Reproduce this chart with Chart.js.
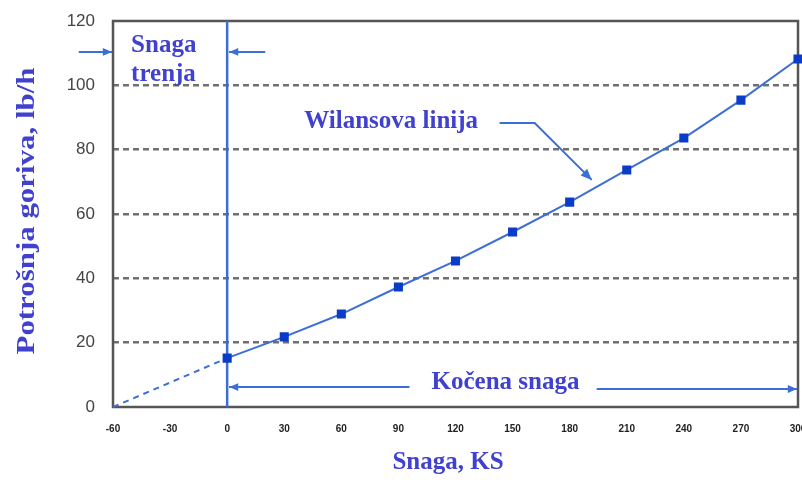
<!DOCTYPE html>
<html>
<head>
<meta charset="utf-8">
<script src="https://cdn.jsdelivr.net/npm/chart.js@4.4.0/dist/chart.umd.min.js"></script>
<style>
  html, body { margin: 0; padding: 0; background: #fff; }
  #wrap { width: 802px; height: 487px; }
</style>
</head>
<body>
<div id="wrap"><canvas id="chart" width="802" height="487"></canvas></div>
<script>
// --- Data ---
const power = [0, 30, 60, 90, 120, 150, 180, 210, 240, 270, 300];
const fuel = [15.2, 21.8, 28.9, 37.3, 45.4, 54.4, 63.7, 73.7, 83.6, 95.4, 108.2];
// extrapolation back to zero fuel (friction power)
const extPower = [-60, 0];
const extFuel = [0, 15.2];
const yTicks = [0, 20, 40, 60, 80, 100, 120];
const gridValues = [20, 40, 60, 80, 100];

const LINE = '#3c6fd6';
const MARK = '#0a3cc8';
const TEXT = '#4141cf';
const SERIF = 'bold 25px "Liberation Serif", "DejaVu Serif", serif';

const toPoints = (xs, ys) => xs.map((x, i) => ({ x: x, y: ys[i] }));

// arrow helper (pixel coords)
const arrow = (ctx, pts, head) => {
    ctx.beginPath();
    ctx.moveTo(pts[0][0], pts[0][1]);
    for (let i = 1; i < pts.length; i++) ctx.lineTo(pts[i][0], pts[i][1]);
    ctx.stroke();
    const [x1, y1] = pts[pts.length - 2];
    const [x2, y2] = pts[pts.length - 1];
    const a = Math.atan2(y2 - y1, x2 - x1);
    ctx.beginPath();
    ctx.moveTo(x2, y2);
    ctx.lineTo(x2 - head * Math.cos(a - 0.4), y2 - head * Math.sin(a - 0.4));
    ctx.lineTo(x2 - head * Math.cos(a + 0.4), y2 - head * Math.sin(a + 0.4));
    ctx.closePath();
    ctx.fill();
};

const frame = {
    id: 'frame',
    beforeDatasetsDraw(chart) {
        const { ctx, chartArea: a } = chart;
        ctx.save();
        ctx.strokeStyle = '#555';
        ctx.lineWidth = 2.5;
        ctx.strokeRect(a.left, a.top, a.right - a.left, a.bottom - a.top);
        ctx.restore();
    }
};

const notes = {
    id: 'notes',
    afterDatasetsDraw(chart) {
        const { ctx } = chart;
        const sx = chart.scales.x, sy = chart.scales.y;
        const P = (x, y) => [sx.getPixelForValue(x), sy.getPixelForValue(y)];

        ctx.save();
        ctx.fillStyle = TEXT;
        ctx.font = SERIF;
        ctx.textBaseline = 'middle';
        ctx.textAlign = 'left';
        let p = P(-50.5, 112.5); ctx.fillText('Snaga', p[0], p[1]);
        p = P(-50.5, 103.2); ctx.fillText('trenja', p[0], p[1]);
        p = P(40.5, 88.6); ctx.fillText('Wilansova linija', p[0], p[1]);
        p = P(107.4, 7.6); ctx.fillText('Kočena snaga', p[0], p[1]);

        ctx.strokeStyle = LINE;
        ctx.fillStyle = LINE;
        ctx.lineWidth = 2;
        arrow(ctx, [P(-78, 110.4), P(-60.5, 110.4)], 10);
        arrow(ctx, [P(20, 110.4), P(1, 110.4)], 10);
        arrow(ctx, [P(143.2, 88.3), P(161.6, 88.3), P(191.6, 70.6)], 12);
        arrow(ctx, [P(95.8, 6.2), P(1, 6.2)], 10);
        arrow(ctx, [P(194.2, 5.6), P(299.5, 5.6)], 10);

        // axis titles
        ctx.fillStyle = TEXT;
        ctx.font = 'bold 25px "Liberation Serif", "DejaVu Serif", serif';
        ctx.textAlign = 'center';
        ctx.fillText('Snaga, KS', 448, 463);
        const yTitle = 'Potrošnja goriva, lb/h';
        ctx.font = 'bold 26px "Liberation Serif", "DejaVu Serif", serif';
        const stretch = 287 / ctx.measureText(yTitle).width;
        ctx.translate(27, 211);
        ctx.rotate(-Math.PI / 2);
        ctx.scale(stretch, 1);
        ctx.fillText(yTitle, 0, 0);
        ctx.restore();
    }
};

new Chart(document.getElementById('chart'), {
    type: 'line',
    data: {
        datasets: [
            {
                data: toPoints(power, fuel),
                borderColor: LINE,
                borderWidth: 2,
                pointStyle: 'rect',
                pointRadius: 5,
                pointBackgroundColor: MARK,
                pointBorderColor: MARK,
                tension: 0
            },
            {
                data: toPoints(extPower, extFuel),
                borderColor: LINE,
                borderWidth: 2,
                borderDash: [6, 5],
                pointRadius: 0
            },
            {
                // friction power boundary at zero brake power
                data: [{ x: 0, y: 0 }, { x: 0, y: 120 }],
                borderColor: LINE,
                borderWidth: 2.5,
                pointRadius: 0
            }
        ]
    },
    options: {
        responsive: false,
        animation: false,
        clip: false,
        layout: { autoPadding: false, padding: { top: 21, right: 4, left: 0, bottom: 0 } },
        plugins: {
            legend: { display: false },
            tooltip: { enabled: false }
        },
        scales: {
            x: {
                type: 'linear',
                min: -60,
                max: 300,
                afterFit: (s) => { s.height = 80; s.paddingLeft = 0; s.paddingRight = 0; },
                ticks: {
                    stepSize: 30,
                    padding: 16,
                    color: '#222',
                    font: { family: '"Liberation Sans", Arial, sans-serif', size: 10, weight: 'bold' }
                },
                grid: { display: false, drawTicks: false },
                border: { display: false }
            },
            y: {
                min: 0,
                max: 120,
                afterFit: (s) => { s.width = 113; s.paddingTop = 0; s.paddingBottom = 0; },
                afterBuildTicks: (s) => { s.ticks = yTicks.map(v => ({ value: v })); },
                ticks: {
                    padding: 18,
                    color: '#444',
                    font: { family: '"Liberation Sans", Arial, sans-serif', size: 17 }
                },
                grid: {
                    drawTicks: false,
                    lineWidth: 2.5,
                    color: (c) => gridValues.includes(c.tick && c.tick.value) ? '#707070' : 'rgba(0,0,0,0)'
                },
                border: { display: false, dash: [6, 4] }
            }
        }
    },
    plugins: [frame, notes]
});
</script>
</body>
</html>
